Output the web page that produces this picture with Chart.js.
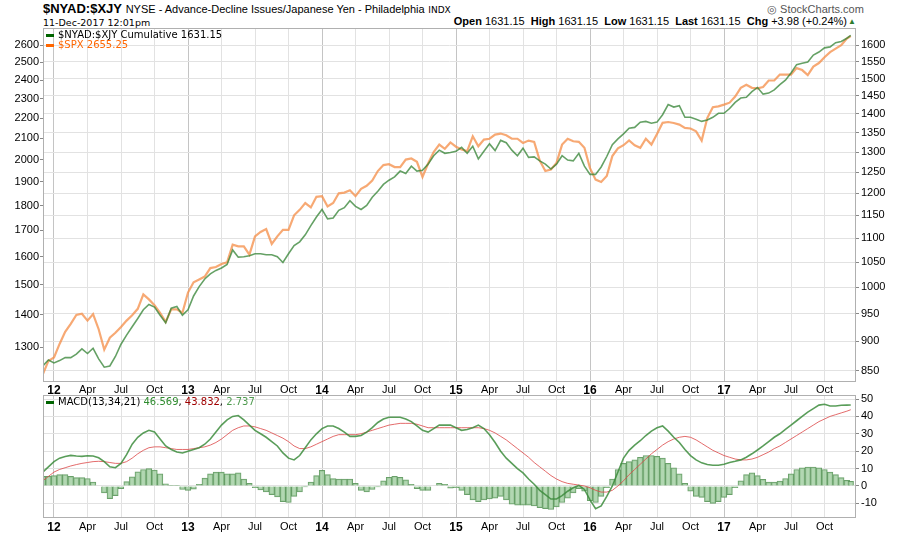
<!DOCTYPE html>
<html lang="en">
<head>
    <meta charset="UTF-8">
    <title>$NYAD:$XJY vs $SPX</title>
    <script src="https://cdn.jsdelivr.net/npm/chart.js"></script>
    <style>
        body {
            margin: 0;
            background: #fff;
            font-family: "Liberation Sans", Arial, sans-serif;
            width: 900px;
            height: 534px;
            position: relative;
            overflow: hidden;
        }
        .txt { position: absolute; white-space: nowrap; color: #000; }
        .mono { font-family: "DejaVu Sans", Verdana, sans-serif; }
        #top { position: absolute; left: 0; top: 0; }
        #bottom { position: absolute; left: 0; top: 384px; }
        .dash { position: absolute; width: 8px; height: 3px; }
    </style>
</head>
<body>
    <!-- header -->
    <div class="txt" style="left:43px; top:1px; font-size:13px;">
        <b>$NYAD:$XJY</b> <span style="font-size:11px;">NYSE - Advance-Decline Issues/Japanese Yen - Philadelphia</span>
        <span class="mono" style="font-size:9px;">INDX</span>
    </div>
    <div class="txt mono" style="left:43px; top:17px; font-size:9.5px;">11-Dec-2017 12:01pm</div>
    <div class="txt" style="left:767px; top:3px; font-size:11px; color:#555;">&#9678; StockCharts.com</div>
    <div class="txt" style="right:53px; top:15px; font-size:11px;">
        <b>Open</b> 1631.15&nbsp; <b>High</b> 1631.15&nbsp; <b>Low</b> 1631.15&nbsp; <b>Last</b> 1631.15&nbsp; <b>Chg</b> +3.98 (+0.24%)
    </div>
    <div class="txt" style="left:848px; top:17px; font-size:8px; color:#2e7d2e;">&#9650;</div>

    <canvas id="top" width="900" height="396"></canvas>
    <canvas id="bottom" width="900" height="150"></canvas>

    <!-- legends -->
    <div class="dash" style="left:46px; top:34px; background:#006400;"></div>
    <div class="txt mono" style="left:58px; top:29px; font-size:10px;">$NYAD:$XJY Cumulative 1631.15</div>
    <div class="dash" style="left:46px; top:44px; background:#ff6600;"></div>
    <div class="txt mono" style="left:58px; top:39px; font-size:10px; color:#ff6600;">$SPX 2655.25</div>

    <div class="dash" style="left:46px; top:401px; background:#006400;"></div>
    <div class="txt mono" style="left:58px; top:396px; font-size:10px;">MACD(13,34,21) <span style="color:#2e8b2e;">46.569</span>, <span style="color:#a00000;">43.832</span>, <span style="color:#4e9a4e;">2.737</span></div>

    <script>
        // x = months since Jan 2012, sampled every half month; last point is 11-Dec-2017
        const GRID_START = -1;
        const GRID_STEP = 0.5;
        const LAST_X = 71.35;

        const monthNames = ['Jan', 'Feb', 'Mar', 'Apr', 'May', 'Jun', 'Jul', 'Aug', 'Sep', 'Oct', 'Nov', 'Dec'];
        const quarterTicks = [0, 3, 6, 9, 12, 15, 18, 21, 24, 27, 30, 33, 36, 39, 42, 45, 48, 51, 54, 57, 60, 63, 66, 69];
        const spxTicks = [1300, 1400, 1500, 1600, 1700, 1800, 1900, 2000, 2100, 2200, 2300, 2400, 2500, 2600];
        const nyadTicks = [850, 900, 950, 1000, 1050, 1100, 1150, 1200, 1250, 1300, 1350, 1400, 1450, 1500, 1550, 1600];
        const macdTicks = [-10, 0, 10, 20, 30, 40, 50];

        // $NYAD:$XJY cumulative (right axis)
        const nyad = [
            858, 868, 863, 867, 872, 872, 878, 887, 879, 888, 870, 856, 858, 874, 895, 911, 926, 941, 957, 967,
            962, 947, 933, 960, 963, 947, 957, 983, 1001, 1016, 1026, 1033, 1038, 1045, 1075, 1060, 1061, 1063, 1067, 1067,
            1065, 1065, 1061, 1049, 1067, 1084, 1092, 1107, 1127, 1146, 1163, 1142, 1144, 1161, 1167, 1183, 1170, 1163, 1172, 1191,
            1205, 1221, 1231, 1239, 1253, 1247, 1265, 1253, 1255, 1270, 1291, 1305, 1297, 1299, 1302, 1312, 1297, 1315, 1283, 1302,
            1321, 1304, 1330, 1324, 1305, 1291, 1310, 1287, 1288, 1278, 1270, 1258, 1270, 1291, 1280, 1278, 1297, 1265, 1245, 1245,
            1263, 1289, 1319, 1334, 1347, 1362, 1364, 1378, 1380, 1375, 1378, 1398, 1426, 1419, 1423, 1391, 1391, 1386, 1380, 1384,
            1391, 1402, 1402, 1415, 1432, 1444, 1446, 1462, 1474, 1455, 1458, 1467, 1482, 1495, 1516, 1541, 1545, 1549, 1570, 1579,
            1592, 1595, 1608, 1612, 1622, 1631.15
        ];

        // $SPX (left axis)
        const spx = [
            1222, 1260, 1270, 1310, 1347, 1372, 1400, 1404, 1382, 1403, 1355, 1293, 1329, 1344, 1362, 1382, 1399, 1420, 1468, 1451,
            1432, 1407, 1378, 1418, 1418, 1407, 1474, 1509, 1519, 1529, 1559, 1563, 1574, 1580, 1645, 1639, 1639, 1608, 1677, 1694,
            1705, 1648, 1677, 1702, 1702, 1760, 1782, 1810, 1792, 1836, 1839, 1796, 1810, 1851, 1854, 1864, 1839, 1870, 1883, 1906,
            1948, 1975, 1979, 1966, 1966, 2000, 2005, 1990, 1922, 1982, 2035, 2070, 2050, 2080, 2060, 2047, 2039, 2110, 2062, 2094,
            2098, 2118, 2123, 2115, 2098, 2098, 2078, 2089, 2083, 1995, 1948, 1955, 1985, 2070, 2098, 2086, 2083, 2055, 1961, 1910,
            1900, 1926, 2016, 2052, 2067, 2090, 2067, 2055, 2098, 2070, 2121, 2176, 2180, 2175, 2167, 2151, 2148, 2134, 2089, 2200,
            2255, 2260, 2269, 2279, 2311, 2358, 2375, 2358, 2355, 2362, 2398, 2398, 2431, 2431, 2430, 2467, 2456, 2428, 2476, 2496,
            2529, 2559, 2580, 2600, 2640, 2655.25
        ];

        // MACD(13,34,21)
        const macd = [
            8, 11, 14, 16, 17, 17.6, 17.2, 17, 17.4, 17.2, 16.2, 14, 11, 10.5, 13, 18, 24, 28, 30.5, 32,
            31, 27, 23, 21, 19.5, 19, 20, 21, 22, 24, 27, 31, 35, 38, 40, 40.5, 38, 35, 32, 30,
            28, 25.5, 23, 19, 16, 15, 17.5, 22, 26.5, 30, 33, 34.5, 34.5, 33, 31, 28.5, 28.5, 29, 31, 33.5,
            36.5, 38.5, 39.5, 39.5, 39.5, 38.5, 37, 34.5, 32, 31, 33, 35, 35, 35, 33.5, 32, 32.5, 33.5, 35, 33,
            29.5, 25, 20, 16, 13, 10, 7.5, 4, 1, -2.5, -5, -7.5, -7.5, -5.5, -3, -1, 0.3, -2, -8, -13,
            -11.5, -6, 0, 8, 16, 20.5, 23.5, 26, 29, 31.5, 33.5, 34.5, 31.5, 28, 25, 21, 17.5, 15, 13.3, 12.3,
            11.9, 11.9, 12.5, 13.5, 14.2, 15, 16.5, 18.5, 20.7, 23, 25.5, 28, 30, 32.5, 35, 37.5, 40, 42.5, 44.5, 46.5,
            47, 46, 46, 46.4, 46.5, 46.569
        ];

        const signal = [
            3, 5.5, 8, 9.5, 10.5, 11.5, 12.3, 13, 13.5, 14, 14.2, 14, 13.5, 13, 13, 14, 16, 18.5, 20.5, 22,
            22.5, 22.5, 22, 21.5, 21, 21, 21, 21.5, 22, 22.5, 23.5, 25, 27, 29.5, 32, 33.5, 34.5, 34.5, 34, 33,
            32, 30.5, 29, 27.5, 25.5, 23, 21.5, 21.5, 22.5, 24, 25.5, 27, 28.5, 29.5, 29.5, 29.5, 29.5, 30, 31, 32,
            33, 34, 35, 35.5, 36, 36, 36, 35.5, 34.5, 33.5, 33.5, 33.5, 33.5, 33.5, 33.5, 33.5, 33.5, 33.5, 33.5, 33,
            32, 30.5, 28.5, 26.5, 24, 21.5, 19, 16.5, 13.5, 11, 8.5, 6, 4, 2.5, 1.5, 1, 0.5, 0, -1, -2.5,
            -3.5, -3.5, -2.5, 0, 3, 6.5, 9.5, 12.5, 15.5, 18.5, 21, 23.5, 25.5, 27, 28, 28.5, 28, 26.5, 24.5, 22.5,
            20.5, 19, 17.5, 16.5, 15.5, 15, 15, 15.5, 16.5, 18, 19.5, 21.5, 23, 25, 27, 29, 31, 33, 35, 37,
            38.5, 40, 41, 42, 43, 43.832
        ];

        const histogram = [
            5.5, 5.6, 6, 6.5, 6.5, 5.5, 4.8, 4.8, 4.3, 2.3, 0, -4, -7.3, -5.5, -1.5, 2.5, 5.2, 8.2, 9.5, 10,
            9.2, 7, 1.3, 0.4, 0.4, -2, -2.5, -1.8, 1, 4.5, 7, 8, 8, 7, 7, 7.5, 4, 1.5, -1, -2.3,
            -3.4, -5, -6.3, -9, -9.5, -6, -3.4, -0.5, 2.3, 6, 9, 6.5, 4.2, 4, 4, 4, 1.5, -2.5, -3.4, -2,
            -0.5, 3, 5, 5.6, 5, 3.5, 1, -1.5, -2.5, -2.5, 0, 1.5, 1, -1.2, -1, -2.5, -5, -8, -9, -8,
            -7.5, -7, -6, -8, -10.5, -11, -11, -11, -11.5, -12.5, -13, -13.5, -12, -9.5, -7, -4, -1.5, -3, -8.5, -9.5,
            -6, -1, 4, 9.5, 13, 14, 15, 16.5, 17.5, 17.5, 17, 16, 13, 10.5, 7, 1.5, -3, -6, -6.5, -9,
            -10, -9, -6.5, -5, -1, 3, 6.5, 7.5, 6, 3.8, 2.2, 2.3, 2.8, 4.3, 7, 9.5, 10.5, 10.9, 10.9, 10.5,
            9.5, 8, 6.5, 4.8, 3.3, 2.737
        ];

        const xAt = i => (i < nyad.length - 1 ? GRID_START + i * GRID_STEP : LAST_X);
        const pts = arr => arr.map((v, i) => ({ x: xAt(i), y: v }));

        const X_MIN = -0.985;
        const X_MAX = 71.82;

        Chart.defaults.font.family = '"Liberation Sans", Arial, sans-serif';
        Chart.defaults.font.size = 11;
        Chart.defaults.color = '#000';
        Chart.defaults.animation = false;

        const frame = {
            id: 'frame',
            afterDatasetsDraw(chart) {
                const a = chart.chartArea;
                const c = chart.ctx;
                c.save();
                c.strokeStyle = '#b0b0b0';
                c.lineWidth = 1;
                c.strokeRect(Math.round(a.left) + 0.5, Math.round(a.top) + 0.5,
                    Math.round(a.right - a.left) - 1, Math.round(a.bottom - a.top) - 1);
                c.restore();
            }
        };

        function xScale(height) {
            return {
                type: 'linear',
                min: X_MIN,
                max: X_MAX,
                offset: false,
                afterBuildTicks: s => { s.ticks = quarterTicks.map(v => ({ value: v })); },
                afterFit: s => { s.height = height; },
                ticks: {
                    autoSkip: false,
                    maxRotation: 0,
                    padding: 2,
                    callback: v => (v % 12 === 0 ? String(12 + v / 12) : monthNames[v % 12]),
                    font: ctx => (ctx.tick && ctx.tick.value % 12 === 0
                        ? { size: 12, weight: 'bold' } : { size: 11 })
                },
                grid: {
                    offset: false,
                    drawTicks: false,
                    color: ctx => (ctx.tick && ctx.tick.value % 12 === 0 ? '#c4c4c4' : '#e2e2e2')
                },
                border: { display: false }
            };
        }

        // price panel
        new Chart(document.getElementById('top'), {
            type: 'line',
            data: {
                datasets: [
                    {
                        label: '$NYAD:$XJY',
                        data: pts(nyad),
                        yAxisID: 'yR',
                        borderColor: 'rgba(50,130,50,0.75)',
                        borderWidth: 1.6,
                        pointRadius: 0,
                        tension: 0
                    },
                    {
                        label: '$SPX',
                        data: pts(spx),
                        yAxisID: 'yL',
                        borderColor: 'rgba(244,140,70,0.75)',
                        borderWidth: 2.2,
                        pointRadius: 0,
                        tension: 0
                    }
                ]
            },
            options: {
                responsive: false,
                layout: { padding: { top: 28, left: 0, right: 0, bottom: 0 } },
                plugins: { legend: { display: false }, tooltip: { enabled: false } },
                scales: {
                    x: xScale(14.5),
                    yL: {
                        type: 'logarithmic',
                        position: 'left',
                        min: 1201.8,
                        max: 2705,
                        afterBuildTicks: s => { s.ticks = spxTicks.map(v => ({ value: v })); },
                        afterFit: s => { s.width = 43; },
                        ticks: { padding: 1, callback: v => String(v) },
                        grid: { drawOnChartArea: false, tickLength: 3, tickColor: '#888' },
                        border: { display: false }
                    },
                    yR: {
                        type: 'logarithmic',
                        position: 'right',
                        min: 832.5,
                        max: 1654.6,
                        afterBuildTicks: s => { s.ticks = nyadTicks.map(v => ({ value: v })); },
                        afterFit: s => { s.width = 44; },
                        ticks: { padding: 2, callback: v => String(v) },
                        grid: { color: '#e2e2e2', tickLength: 3, tickColor: '#888' },
                        border: { display: false }
                    }
                }
            },
            plugins: [frame]
        });

        // MACD panel
        new Chart(document.getElementById('bottom'), {
            type: 'line',
            data: {
                datasets: [
                    {
                        label: 'MACD',
                        data: pts(macd),
                        borderColor: 'rgba(60,140,60,0.85)',
                        borderWidth: 1.6,
                        pointRadius: 0,
                        tension: 0
                    },
                    {
                        label: 'Signal',
                        data: pts(signal),
                        borderColor: 'rgba(220,70,70,0.8)',
                        borderWidth: 1,
                        pointRadius: 0,
                        tension: 0
                    },
                    {
                        type: 'bar',
                        label: 'Histogram',
                        data: pts(histogram),
                        backgroundColor: 'rgba(165,208,165,0.85)',
                        borderColor: 'rgba(90,150,90,0.9)',
                        borderWidth: 1,
                        barThickness: 5.6
                    }
                ]
            },
            options: {
                responsive: false,
                layout: { padding: { top: 11, left: 43, right: 0, bottom: 0 } },
                plugins: { legend: { display: false }, tooltip: { enabled: false } },
                scales: {
                    x: xScale(16),
                    y: {
                        position: 'right',
                        min: -18.4,
                        max: 52.3,
                        afterBuildTicks: s => { s.ticks = macdTicks.map(v => ({ value: v })); },
                        afterFit: s => { s.width = 44; },
                        ticks: { padding: 2 },
                        grid: { color: '#e2e2e2', tickLength: 3, tickColor: '#888' },
                        border: { display: false }
                    }
                }
            },
            plugins: [frame]
        });
    </script>
</body>
</html>
